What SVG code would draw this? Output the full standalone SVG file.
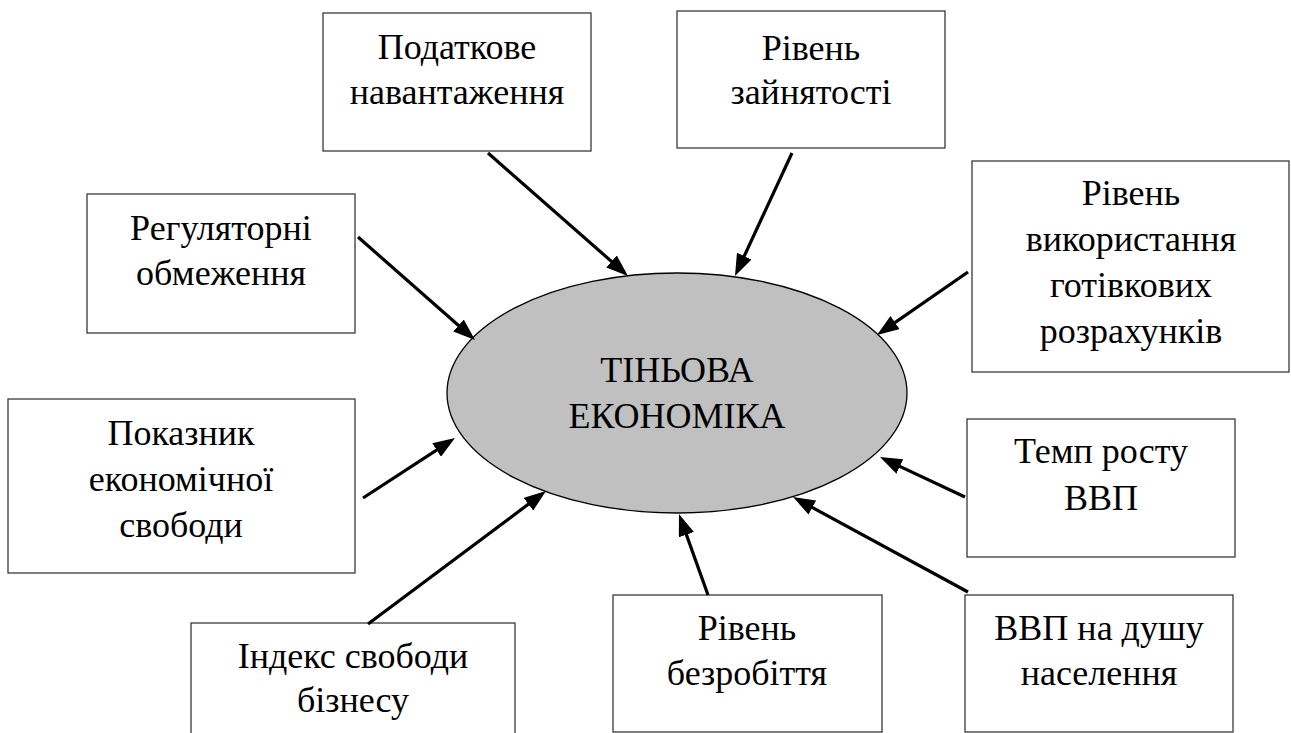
<svg xmlns="http://www.w3.org/2000/svg" width="1291" height="733" viewBox="0 0 1291 733">
<style>
.box{fill:#ffffff;stroke:#3a3a3a;stroke-width:1.3}
.t{font-family:'Liberation Serif','Times New Roman',serif;font-size:36px;fill:#000;text-anchor:middle}
.c{stroke:#000;stroke-width:3.2;fill:none;marker-end:url(#ah)}
</style>
<defs>
<marker id="ah" markerUnits="userSpaceOnUse" markerWidth="22" markerHeight="16" refX="16" refY="8" orient="auto">
<path d="M0,0 L22,8 L0,16 z" fill="#000"/>
</marker>
</defs>
<rect width="1291" height="733" fill="#fff"/>
<g id="center">
<ellipse cx="677" cy="393" rx="230" ry="120" fill="#c0c0c0" stroke="#000" stroke-width="1.3"/>
<text class="t" x="677" y="382">ТІНЬОВА</text>
<text class="t" x="677" y="428">ЕКОНОМІКА</text>
</g>
<g id="n1"><rect class="box" x="323" y="13" width="268" height="138"/>
<text class="t" x="457" y="59">Податкове</text><text class="t" x="457" y="104">навантаження</text></g>
<g id="n2"><rect class="box" x="677" y="11" width="268" height="137"/>
<text class="t" x="811" y="60">Рівень</text><text class="t" x="811" y="104">зайнятості</text></g>
<g id="n3"><rect class="box" x="87" y="194" width="268" height="139"/>
<text class="t" x="221" y="240">Регуляторні</text><text class="t" x="221" y="285">обмеження</text></g>
<g id="n4"><rect class="box" x="972" y="161" width="317" height="211"/>
<text class="t" x="1131" y="205">Рівень</text><text class="t" x="1131" y="251">використання</text><text class="t" x="1131" y="297">готівкових</text><text class="t" x="1131" y="343">розрахунків</text></g>
<g id="n5"><rect class="box" x="8" y="399" width="347" height="174"/>
<text class="t" x="181" y="445">Показник</text><text class="t" x="181" y="491">економічної</text><text class="t" x="181" y="537">свободи</text></g>
<g id="n6"><rect class="box" x="967" y="419" width="268" height="138"/>
<text class="t" x="1101" y="463">Темп росту</text><text class="t" x="1101" y="510">ВВП</text></g>
<g id="n7"><rect class="box" x="191" y="623" width="324" height="130"/>
<text class="t" x="353" y="668">Індекс свободи</text><text class="t" x="353" y="712">бізнесу</text></g>
<g id="n8"><rect class="box" x="613" y="595" width="269" height="137"/>
<text class="t" x="747" y="640">Рівень</text><text class="t" x="747" y="685">безробіття</text></g>
<g id="n9"><rect class="box" x="965" y="595" width="268" height="137"/>
<text class="t" x="1099" y="640">ВВП на душу</text><text class="t" x="1099" y="685">населення</text></g>
<g id="connectors">
<line class="c" x1="488" y1="153" x2="623.5" y2="272"/>
<line class="c" x1="792" y1="153" x2="737.5" y2="270.6"/>
<line class="c" x1="358" y1="237" x2="470.5" y2="336"/>
<line class="c" x1="968" y1="272" x2="881.9" y2="331.6"/>
<line class="c" x1="363" y1="498" x2="450" y2="441.3"/>
<line class="c" x1="965" y1="497" x2="885.4" y2="459.6"/>
<line class="c" x1="368" y1="624" x2="541.2" y2="494.6"/>
<line class="c" x1="708" y1="595" x2="681" y2="519.6"/>
<line class="c" x1="968" y1="592" x2="798.3" y2="499.9"/>
</g>
</svg>
